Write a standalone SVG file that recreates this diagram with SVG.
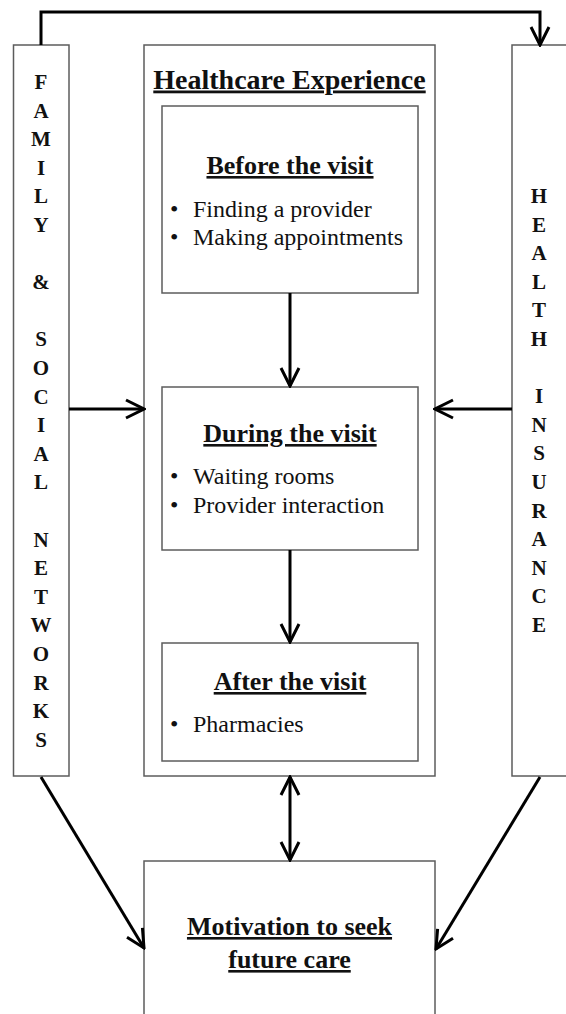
<svg xmlns="http://www.w3.org/2000/svg" width="566" height="1014" viewBox="0 0 566 1014">
<style>
.box{fill:#fff;stroke:#5c5c5c;stroke-width:1.5}
.conn{fill:none;stroke:#000;stroke-width:3}
.side{font-family:"Liberation Serif","Times New Roman",serif;font-weight:bold;font-size:21px;fill:#111;text-anchor:middle}
.title{font-family:"Liberation Serif","Times New Roman",serif;font-weight:bold;font-size:26px;fill:#111;text-anchor:middle;text-decoration:underline}
.big{font-size:28px}
.item{font-family:"Liberation Serif","Times New Roman",serif;font-size:24px;fill:#111}
</style>
<defs>
<marker id="arr" viewBox="0 0 22 22" refX="20" refY="11" markerWidth="22" markerHeight="22" markerUnits="userSpaceOnUse" orient="auto-start-reverse">
<path d="M2,2 L20,11 L2,20" fill="none" stroke="#000" stroke-width="3"/>
</marker>
</defs>
<rect width="566" height="1014" fill="#fff"/>
<g id="family">
<rect class="box" x="13.5" y="45" width="55.5" height="731"/>
<text class="side"><tspan x="41" y="89">F</tspan><tspan x="41" dy="28.6">A</tspan><tspan x="41" dy="28.6">M</tspan><tspan x="41" dy="28.6">I</tspan><tspan x="41" dy="28.6">L</tspan><tspan x="41" dy="28.6">Y</tspan><tspan x="41" dy="57.2">&amp;</tspan><tspan x="41" dy="57.2">S</tspan><tspan x="41" dy="28.6">O</tspan><tspan x="41" dy="28.6">C</tspan><tspan x="41" dy="28.6">I</tspan><tspan x="41" dy="28.6">A</tspan><tspan x="41" dy="28.6">L</tspan><tspan x="41" dy="57.2">N</tspan><tspan x="41" dy="28.6">E</tspan><tspan x="41" dy="28.6">T</tspan><tspan x="41" dy="28.6">W</tspan><tspan x="41" dy="28.6">O</tspan><tspan x="41" dy="28.6">R</tspan><tspan x="41" dy="28.6">K</tspan><tspan x="41" dy="28.6">S</tspan></text>
</g>
<g id="insurance">
<rect class="box" x="512" y="45" width="60" height="731"/>
<text class="side"><tspan x="539" y="203">H</tspan><tspan x="539" dy="28.6">E</tspan><tspan x="539" dy="28.6">A</tspan><tspan x="539" dy="28.6">L</tspan><tspan x="539" dy="28.6">T</tspan><tspan x="539" dy="28.6">H</tspan><tspan x="539" dy="57.2">I</tspan><tspan x="539" dy="28.6">N</tspan><tspan x="539" dy="28.6">S</tspan><tspan x="539" dy="28.6">U</tspan><tspan x="539" dy="28.6">R</tspan><tspan x="539" dy="28.6">A</tspan><tspan x="539" dy="28.6">N</tspan><tspan x="539" dy="28.6">C</tspan><tspan x="539" dy="28.6">E</tspan></text>
</g>
<g id="healthcare">
<rect class="box" x="144" y="45" width="291" height="731"/>
<text class="title big" x="289.5" y="88.5">Healthcare Experience</text>
</g>
<g id="before">
<rect class="box" x="162" y="106" width="256" height="187"/>
<text class="title" x="290" y="174">Before the visit</text>
<text class="item" x="170" y="217">•</text><text class="item" x="193" y="217">Finding a provider</text>
<text class="item" x="170" y="245">•</text><text class="item" x="193" y="245">Making appointments</text>
</g>
<g id="during">
<rect class="box" x="162" y="387" width="256" height="163"/>
<text class="title" x="290" y="442">During the visit</text>
<text class="item" x="170" y="484">•</text><text class="item" x="193" y="484">Waiting rooms</text>
<text class="item" x="170" y="513">•</text><text class="item" x="193" y="513">Provider interaction</text>
</g>
<g id="after">
<rect class="box" x="162" y="643" width="256" height="118"/>
<text class="title" x="290" y="690">After the visit</text>
<text class="item" x="170" y="732">•</text><text class="item" x="193" y="732">Pharmacies</text>
</g>
<g id="motivation">
<rect class="box" x="144" y="861" width="291" height="170"/>
<text class="title" x="289.5" y="935">Motivation to seek</text>
<text class="title" x="289.5" y="968">future care</text>
</g>
<g id="connectors">
<path class="conn" d="M41,45 L41,12 L540,12 L540,45" marker-end="url(#arr)"/>
<line class="conn" x1="69" y1="409" x2="144" y2="409" marker-end="url(#arr)"/>
<line class="conn" x1="512" y1="409" x2="435" y2="409" marker-end="url(#arr)"/>
<line class="conn" x1="290" y1="293" x2="290" y2="386" marker-end="url(#arr)"/>
<line class="conn" x1="290" y1="550" x2="290" y2="642" marker-end="url(#arr)"/>
<line class="conn" x1="290" y1="777" x2="290" y2="860" marker-start="url(#arr)" marker-end="url(#arr)"/>
<line class="conn" x1="41" y1="777" x2="144" y2="948" marker-end="url(#arr)"/>
<line class="conn" x1="540" y1="777" x2="436" y2="949" marker-end="url(#arr)"/>
</g>
</svg>
